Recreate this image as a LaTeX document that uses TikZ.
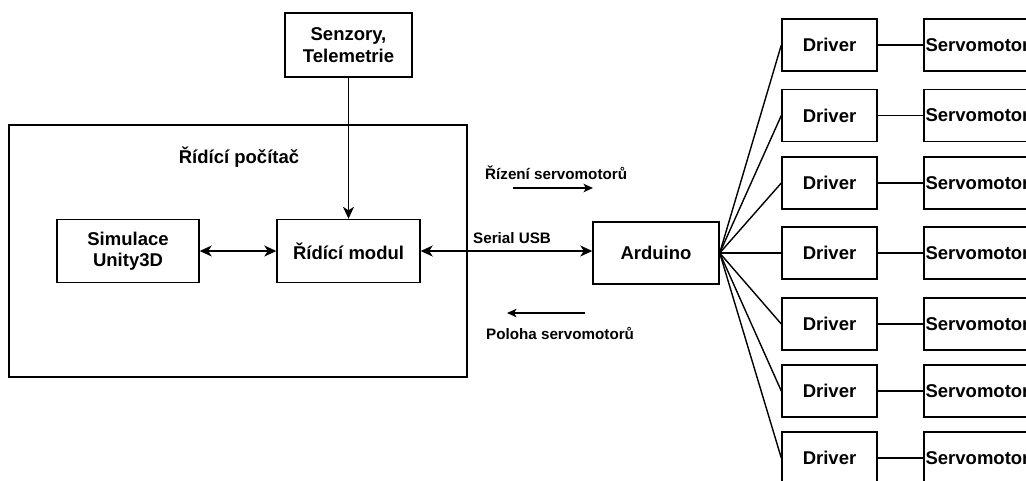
\documentclass[tikz,border=0pt]{standalone}
\usepackage{fontspec}
\setmainfont{Liberation Sans}
\usetikzlibrary{arrows.meta}
\tikzset{
  box/.style={draw, line width=1.4pt, inner sep=0pt, align=center,
    font=\fontsize{18.5}{21.5}\selectfont\bfseries},
  drv/.style={box, minimum width=95pt, minimum height=52pt},
  srv/.style={box, minimum width=107pt, minimum height=52pt},
  link/.style={line width=1.4pt},
  arr/.style={link, -{Stealth[length=12pt,width=11pt,inset=3.5pt]}},
  darr/.style={link, {Stealth[length=12pt,width=11pt,inset=3.5pt]}-{Stealth[length=12pt,width=11pt,inset=3.5pt]}},
  sarr/.style={line width=1.3pt, -{Stealth[length=9.5pt,width=8.5pt,inset=2.5pt]}},
  lbl/.style={inner sep=0pt, font=\fontsize{15.2}{18}\selectfont\bfseries},
}
\begin{document}
\begin{tikzpicture}[x=1pt, y=-1pt]
  \useasboundingbox (0,0) rectangle (1026,480);
  \clip (0,0) rectangle (1026,480);

  % control computer container
  \node[draw, line width=1.4pt, minimum width=458pt, minimum height=252pt, inner sep=0pt] (pc) at (238,251) {};
  \node[lbl, font=\fontsize{18.5}{21.5}\selectfont\bfseries] (pctitle) at (239,157) {Řídící počítač};

  \node[box, minimum width=127pt, minimum height=64pt] (sen) at (348.5,45) {Senzory,\\Telemetrie};
  \node[box, minimum width=142pt, minimum height=63pt] (sim) at (128,251) {Simulace\\Unity3D};
  \node[box, minimum width=143pt, minimum height=63pt] (rm) at (348.5,251) {Řídící modul};
  \node[box, minimum width=126pt, minimum height=62pt] (ard) at (656,253) {Arduino};

  \draw[arr] (sen) -- (rm);
  \draw[darr] (sim) -- (rm);
  \draw[darr] (rm.east) -- (rm.east -| ard.west);

  % link labels
  \node[lbl, anchor=west] (usb) at (473,238) {Serial USB};
  \node[lbl, anchor=west] (ctl) at (485,173) {Řízení servomotorů};
  \node[lbl, anchor=west] (pos) at (486,333) {Poloha servomotorů};
  \coordinate (ctlA) at (513,188);
  \coordinate (ctlB) at (593,188);
  \coordinate (posA) at (585,313);
  \coordinate (posB) at (507,313);
  \draw[sarr] (ctlA) -- (ctlB);
  \draw[sarr] (posA) -- (posB);

  % drivers and servomotors
  \foreach \i/\y in {1/45,2/115.5,3/183,4/253,5/324,6/391,7/458}{
    \node[drv] (d\i) at (829.5,\y) {Driver};
    \node[srv] (s\i) at (977.5,\y) {Servomotor};
    \draw[link] (ard.east) -- (d\i.west);
    \draw[link] (d\i.east) -- (s\i.west);
  }
\end{tikzpicture}
\end{document}
